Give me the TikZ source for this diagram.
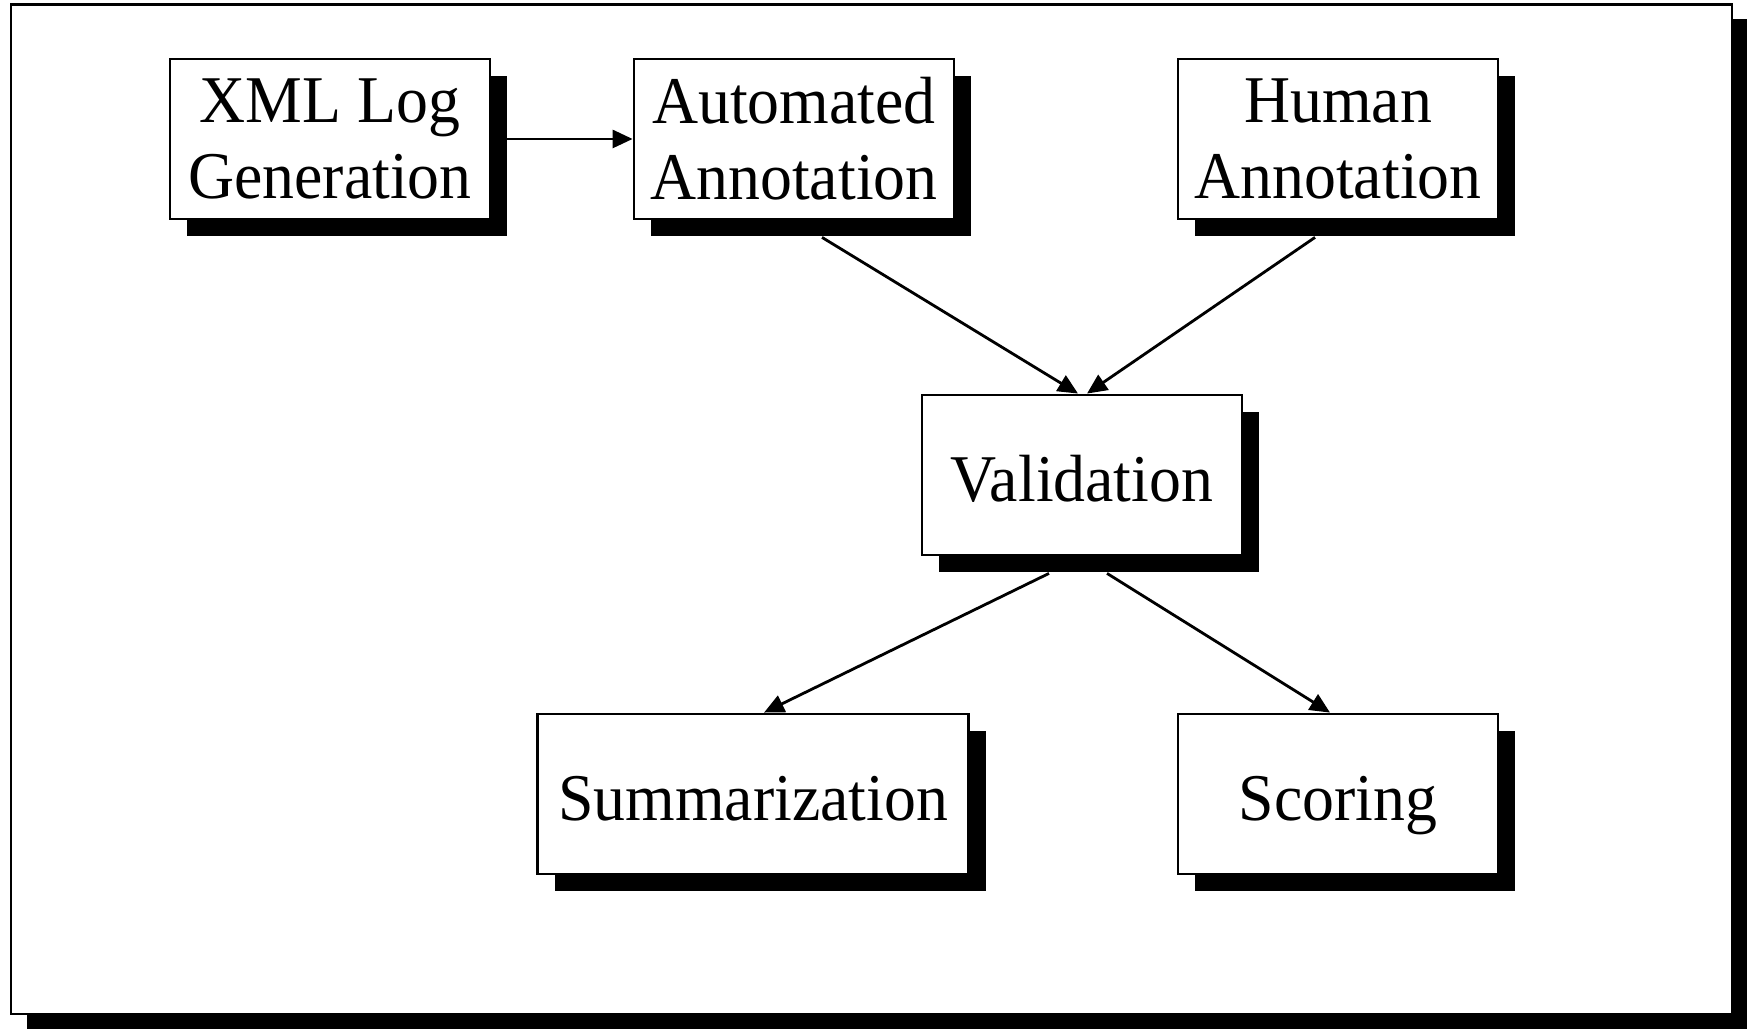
\documentclass[tikz,border=0pt]{standalone}
\usepackage{fontspec}
\setmainfont[FakeStretch=0.955]{Liberation Serif}
\usetikzlibrary{arrows.meta,shadows}
\tikzset{
  blk/.style={draw, line width=0.8pt, fill=white, minimum width=3.2cm, minimum height=1.6cm,
    align=center, inner sep=2pt, font=\fontsize{19}{21.6}\selectfont,
    general shadow={fill=black, shadow xshift=.17cm, shadow yshift=-.17cm}},
  oneline/.style={text height=15pt, text depth=0pt},
  arr/.style={line width=0.8pt, -{Triangle[length=.2cm,width=.18cm]}}
}
\begin{document}
\begin{tikzpicture}
\useasboundingbox (0,0) rectangle (17.53,10.29);
% frame with its shadow
\fill[black] (0.27,0) rectangle (17.47,10.1);
\draw[line width=0.8pt, fill=white] (0.11,0.15) rectangle (17.32,10.245);
% steps
\node[blk] (xml) at (3.30,8.90) {XML Log\\Generation};
\node[blk] (auto) at (7.94,8.90) {Automated\\Annotation};
\node[blk] (human) at (13.38,8.90) {Human\\Annotation};
\node[blk, oneline] (valid) at (10.82,5.54) {Validation};
\node[blk, oneline, minimum width=4.31cm] (summ) at (7.53,2.35) {Summarization};
\node[blk, oneline] (score) at (13.38,2.35) {Scoring};
% connectors
\draw[arr] (xml) -- (auto);
\draw[arr] ([xshift=.28cm,yshift=-.17cm]auto.south) -- ([xshift=-.04cm]valid.north);
\draw[arr] ([xshift=-.23cm,yshift=-.17cm]human.south) -- ([xshift=.05cm]valid.north);
\draw[arr] ([xshift=-.33cm,yshift=-.17cm]valid.south) -- ([xshift=.11cm]summ.north);
\draw[arr] ([xshift=.25cm,yshift=-.17cm]valid.south) -- ([xshift=-.08cm]score.north);
\end{tikzpicture}
\end{document}
